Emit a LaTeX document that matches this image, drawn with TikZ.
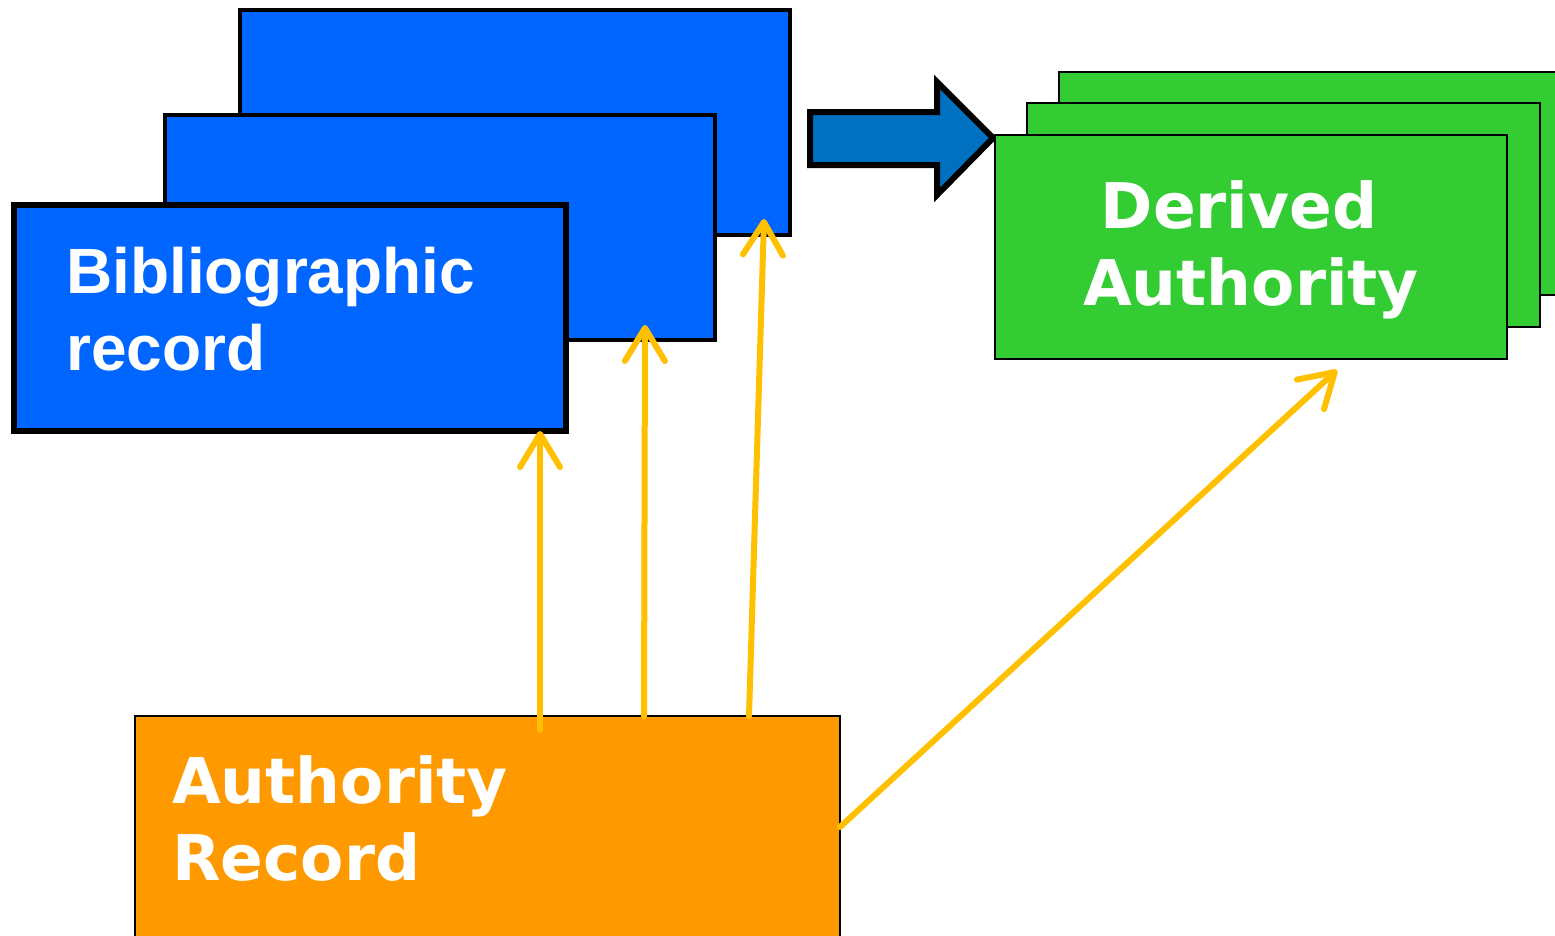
\documentclass[tikz,border=0pt]{standalone}
\usepackage{fontspec}
\setmainfont{Liberation Sans}
\newfontfamily\verd{DejaVu Sans}
\usetikzlibrary{arrows.meta,calc}
\definecolor{bibblue}{HTML}{0066FF}
\definecolor{bigarrowblue}{HTML}{0070C0}
\definecolor{dagreen}{HTML}{33CC33}
\definecolor{authorange}{HTML}{FF9900}
\definecolor{linkyellow}{HTML}{FFC000}
\begin{document}
\begin{tikzpicture}[x=1pt,y=-1pt,
  box/.style={rectangle, inner sep=0, outer sep=0, anchor=north west, draw=black},
  bibbox/.style={box, fill=bibblue, line width=4},
  greenbox/.style={box, fill=dagreen, line width=2},
  orangebox/.style={box, fill=authorange, line width=2},
  biblabel/.style={text=white, font=\bfseries\fontsize{64}{77}\selectfont, inner sep=0, anchor=base west},
  verdlabel/.style={text=white, font=\verd\bfseries\fontsize{63}{77}\selectfont, inner sep=0},
  yarrow/.style={draw=linkyellow, line width=6, line cap=round, -{Straight Barb[length=33,width=40,round]}},
  bigarrow/.style={fill=bigarrowblue, draw=black, line width=6, line join=miter}
]
\useasboundingbox (0,0) rectangle (1555,935);
\clip (0,0) rectangle (1555,935);
\fill[white] (0,0) rectangle (1555,935);

% bibliographic records
\node[bibbox, minimum width=550, minimum height=225] (b3) at (240,10) {};
\node[bibbox, minimum width=550, minimum height=225] (b2) at (165,115) {};
\node[bibbox, line width=6, minimum width=552, minimum height=226] (b1) at (14,205) {};
\node[biblabel] (bt1) at (66,293) {Bibliographic};
\node[biblabel] (bt2) at (66,370) {record};

% big arrow
\draw[bigarrow] (810,112) -- (937,112) -- (937,82) -- (993,138) -- (937,195) -- (937,165) -- (810,165) -- cycle;

% derived authorities
\node[greenbox, minimum width=540, minimum height=223] (g3) at (1059,72) {};
\node[greenbox, minimum width=513, minimum height=224] (g2) at (1027,103) {};
\node[greenbox, minimum width=512, minimum height=224] (g1) at (995,135) {};
\node[verdlabel, anchor=base] (gt1) at (1239,228) {Derived};
\node[verdlabel, anchor=base] (gt2) at (1251,305) {Authority};

% authority record
\node[orangebox, minimum width=705, minimum height=260] (ar) at (135,716) {};
\node[verdlabel, anchor=base west] (at1) at (172,803) {Authority};
\node[verdlabel, anchor=base west] (at2) at (172,880) {Record};

% links
\coordinate (s1) at (540,730);
\coordinate (e1) at (540,431);
\coordinate (s2) at (644,716);
\coordinate (e2) at (645,325);
\coordinate (s3) at (749,716);
\coordinate (e3) at (764,219);
\coordinate (s4) at (840,827);
\coordinate (e4) at (1337,370);
\draw[yarrow] (s1) -- (e1);
\draw[yarrow] (s2) -- (e2);
\draw[yarrow] (s3) -- (e3);
\draw[yarrow] (s4) -- (e4);
\end{tikzpicture}
\end{document}
